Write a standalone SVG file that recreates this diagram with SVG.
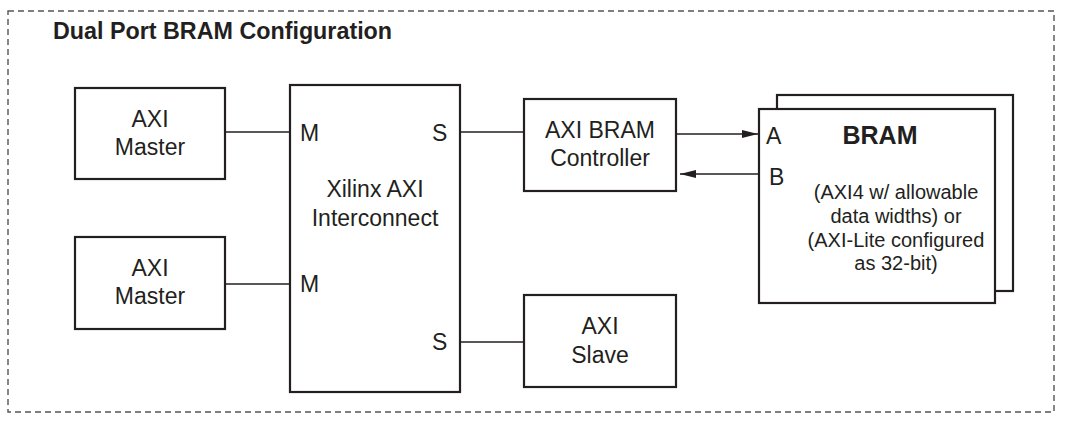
<svg xmlns="http://www.w3.org/2000/svg" width="1065" height="421" viewBox="0 0 1065 421">
<style>
.box{fill:#fff;stroke:#231f20;stroke-width:2.2}
.ln{fill:none;stroke:#231f20;stroke-width:1.6}
.t{font-family:"Liberation Sans",Arial,sans-serif;font-size:23px;fill:#231f20}
.c{text-anchor:middle}
.p{font-family:"Liberation Sans",Arial,sans-serif;font-size:20px;fill:#231f20;text-anchor:middle}
.b{font-family:"Liberation Sans",Arial,sans-serif;font-weight:bold;fill:#231f20}
</style>
<defs>
<marker id="ah" viewBox="0 0 16 8" refX="16" refY="4" markerWidth="16" markerHeight="8" markerUnits="userSpaceOnUse" orient="auto">
<path d="M0,0 L16,4 L0,8 z" fill="#231f20"/>
</marker>
</defs>
<rect x="8" y="11" width="1046" height="401" fill="none" stroke="#555" stroke-width="1.4" stroke-dasharray="6,4"/>
<text class="b" x="53" y="39" font-size="23.3">Dual Port BRAM Configuration</text>
<g id="connectors">
<line class="ln" x1="225" y1="132" x2="290" y2="132"/>
<line class="ln" x1="225" y1="284" x2="290" y2="284"/>
<line class="ln" x1="460" y1="132" x2="524" y2="132"/>
<line class="ln" x1="460" y1="342" x2="524" y2="342"/>
<line class="ln" x1="676" y1="134" x2="758" y2="134" marker-end="url(#ah)"/>
<line class="ln" x1="759" y1="174" x2="680" y2="174" marker-end="url(#ah)"/>
</g>
<g id="master1">
<rect class="box" x="75" y="88" width="150" height="91"/>
<text class="t c" x="150" y="127">AXI</text>
<text class="t c" x="150" y="155">Master</text>
</g>
<g id="master2">
<rect class="box" x="75" y="237" width="150" height="92"/>
<text class="t c" x="150" y="276">AXI</text>
<text class="t c" x="150" y="304">Master</text>
</g>
<g id="interconnect">
<rect class="box" x="290" y="85" width="170" height="307"/>
<text class="t" x="300" y="141">M</text>
<text class="t" x="300" y="292">M</text>
<text class="t" x="432" y="141">S</text>
<text class="t" x="432" y="350">S</text>
<text class="t c" x="375" y="197">Xilinx AXI</text>
<text class="t c" x="375" y="226">Interconnect</text>
</g>
<g id="bram-controller">
<rect class="box" x="524" y="99" width="152" height="92"/>
<text class="t c" x="600" y="138">AXI BRAM</text>
<text class="t c" x="600" y="166">Controller</text>
</g>
<g id="axi-slave">
<rect class="box" x="524" y="295" width="152" height="92"/>
<text class="t c" x="600" y="334">AXI</text>
<text class="t c" x="600" y="363">Slave</text>
</g>
<g id="bram">
<rect class="box" x="777" y="95" width="236" height="196"/>
<rect class="box" x="759" y="109" width="236" height="194"/>
<text class="b c" x="880" y="144" font-size="25" text-anchor="middle">BRAM</text>
<text class="t" x="766" y="144">A</text>
<text class="t" x="769" y="185">B</text>
<text class="p" x="896" y="199">(AXI4 w/ allowable</text>
<text class="p" x="896" y="223">data widths) or</text>
<text class="p" x="896" y="247">(AXI-Lite configured</text>
<text class="p" x="896" y="270">as 32-bit)</text>
</g>
</svg>
